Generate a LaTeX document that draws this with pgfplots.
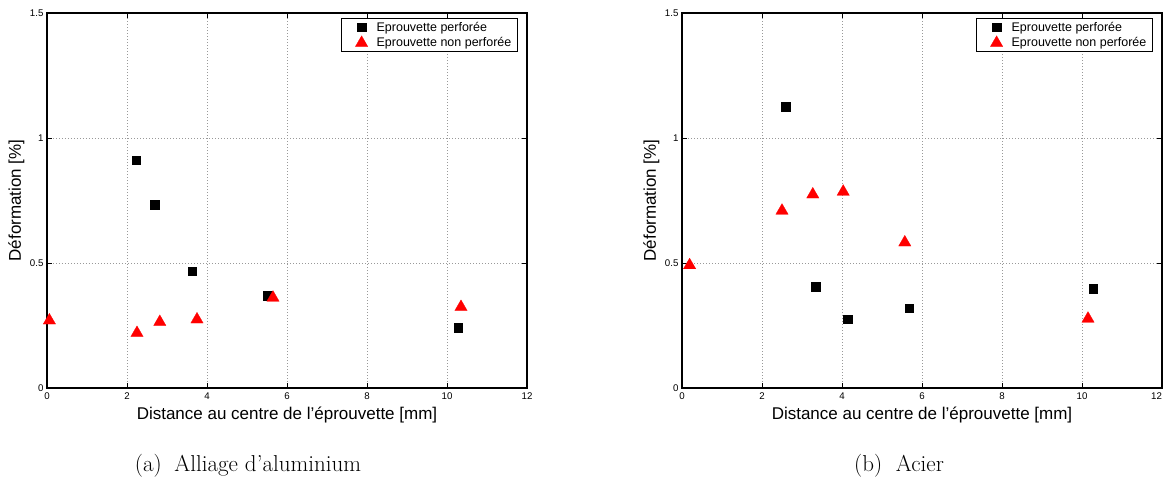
\documentclass[border=0pt]{standalone}
\usepackage{fontspec}
\newfontfamily\arial{Liberation Sans}
\usepackage{pgfplots}
\pgfplotsset{compat=1.18}
\pgfplotsset{
 mystyle/.style={
  scale only axis, width=480pt, height=375pt,
  xmin=0, xmax=12, ymin=0, ymax=1.5,
  xtick={0,2,...,12}, ytick={0,0.5,1,1.5},
  grid=major,
  major grid style={dash pattern=on 1pt off 2pt, gray!80, line width=0.6pt},
  axis line style={line width=1.3pt},
  tick style={black, line width=0.7pt},
  major tick length=5pt,
  /pgf/number format/assume math mode=true,
  tick label style={font=\arial\fontsize{9.7}{10}\selectfont},
  xticklabel style={yshift=-1.5pt},
  xlabel={Distance au centre de l’éprouvette [mm]},
  ylabel={Déformation [\%]},
  label style={font=\arial\fontsize{17}{18}\selectfont},
  xlabel style={at={(axis description cs:0.5,-0.071)}, anchor=center},
  ylabel style={at={(axis description cs:-0.064,0.5)}, anchor=center},
  legend style={at={(0.98125,0.9867)}, anchor=north east, font=\arial\fontsize{12.5}{14}\selectfont,
    draw=black, line width=0.8pt, inner xsep=2pt, inner ysep=1.5pt, row sep=1pt},
  legend image code/.code={\path[draw=none,fill=none] (-18pt,0pt) -- (13pt,0pt); \draw[#1] plot coordinates {(0pt,0pt)};},
  legend cell align=left,
 },
 sq/.style={only marks, mark=square*, mark size=4.2pt, mark options={fill=black, draw=black, line width=0.2pt}},
 tri/.style={only marks, mark=triangle*, mark size=7.2pt, mark options={fill=red, draw=red, line width=0.2pt}},
}
\begin{document}
\begin{tikzpicture}[x=1pt,y=1pt]
\path[use as bounding box] (0,0) rectangle (1163,477);
\begin{axis}[mystyle, at={(47pt,89pt)}, anchor=south west]
\addplot[sq] coordinates {(2.23,0.911) (2.69,0.733) (3.63,0.467) (5.51,0.369) (10.28,0.241)};
\addlegendentry{\makebox[137pt][l]{Eprouvette perforée}}
\addplot[tri] coordinates {(0.06,0.270) (2.25,0.220) (2.82,0.264) (3.75,0.274) (5.65,0.361) (10.35,0.324)};
\addlegendentry{\makebox[137pt][l]{Eprouvette non perforée}}
\end{axis}
\begin{axis}[mystyle, at={(682pt,89pt)}, anchor=south west,
  xticklabels={0,2,4,6,8,10,\makebox[0pt][r]{12}}]
\addplot[sq] coordinates {(2.59,1.125) (3.34,0.406) (4.14,0.275) (5.67,0.319) (10.28,0.398)};
\addlegendentry{\makebox[137pt][l]{Eprouvette perforée}}
\addplot[tri] coordinates {(0.19,0.491) (2.50,0.709) (3.27,0.774) (4.03,0.785) (5.57,0.582) (10.15,0.277)};
\addlegendentry{\makebox[137pt][l]{Eprouvette non perforée}}
\end{axis}
\node[font=\fontsize{23}{26}\selectfont, anchor=center] at (248,11.5) {(a)\hspace{0.55em}Alliage d'aluminium};
\node[font=\fontsize{23}{26}\selectfont, anchor=center] at (899,11.5) {(b)\hspace{0.6em}Acier};
\end{tikzpicture}
\end{document}
